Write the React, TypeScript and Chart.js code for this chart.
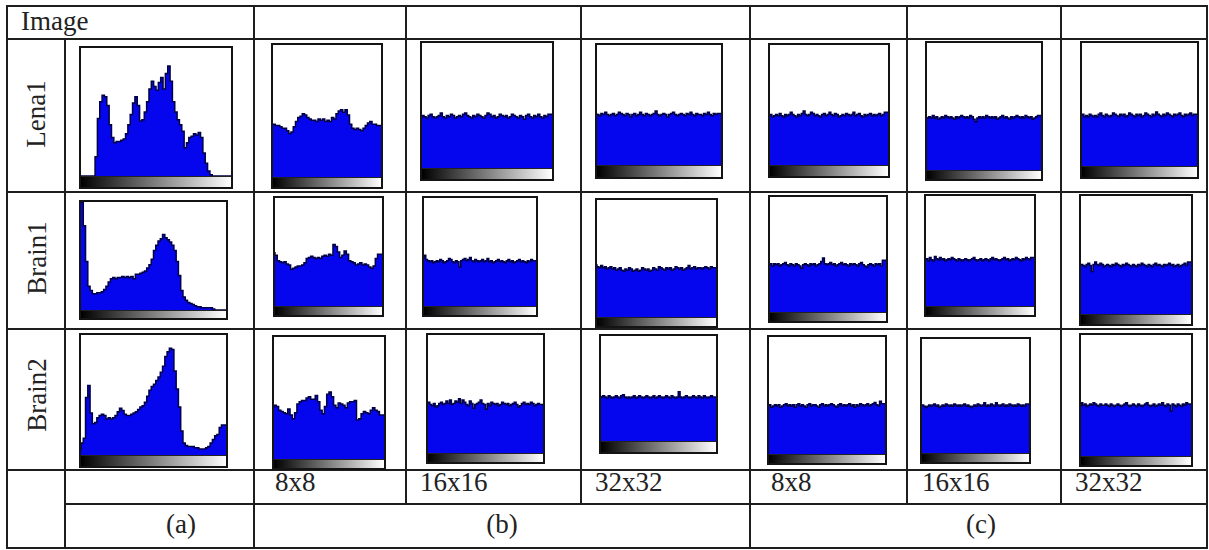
import React, { useEffect, useRef } from 'react';
import { Chart, registerables } from 'chart.js';

Chart.register(...registerables);

// ---------- categories / labels ----------
const ROW_LABELS = ['Lena1', 'Brain1', 'Brain2'];
const SIZE_LABELS = ['8x8', '16x16', '32x32', '8x8', '16x16', '32x32'];
const GROUP_LABELS = ['(a)', '(b)', '(c)'];
const HEADER_LABEL = 'Image';

// ---------- histogram values (percent of plot height, 64 / 48 bins) ----------
const LENA_A = [
  0, 0, 0, 0, 0, 0, 0, 15, 45, 58, 63, 62, 55, 40, 30, 26,
  27, 27, 28, 29, 33, 40, 48, 57, 62, 55, 43, 44, 50, 58, 68, 74,
  70, 67, 73, 77, 68, 80, 86, 74, 58, 50, 44, 40, 35, 22, 26, 30,
  31, 33, 32, 34, 30, 18, 10, 4, 1, 0, 0, 0, 0, 0, 0, 0,
];
const BRAIN1_A = [
  100, 100, 78, 45, 22, 18, 15, 15, 16, 16, 17, 19, 22, 26, 29, 30,
  29, 30, 30, 31, 30, 31, 30, 31, 29, 33, 33, 34, 35, 36, 39, 42,
  47, 55, 60, 64, 66, 70, 67, 65, 63, 60, 55, 45, 32, 18, 12, 9,
  7, 6, 5, 4, 3, 3, 2, 2, 2, 2, 2, 1, 0, 0, 0, 0,
];
const BRAIN2_A = [
  4, 10, 14, 48, 58, 35, 26, 27, 31, 33, 34, 33, 30, 31, 30, 31,
  33, 36, 39, 37, 34, 33, 33, 34, 35, 36, 38, 40, 41, 44, 49, 54,
  57, 59, 62, 65, 69, 74, 82, 86, 89, 88, 70, 55, 40, 20, 10, 8,
  7, 7, 7, 6, 6, 5, 5, 5, 6, 7, 10, 13, 16, 17, 23, 25,
];

const LENA_B1 = [
  40, 40, 39, 39, 38, 37, 37, 35, 33, 34, 38, 42, 45, 46, 48, 47,
  45, 44, 43, 43, 42, 44, 43, 44, 42, 43, 42, 45, 44, 48, 50, 51,
  49, 51, 47, 40, 37, 36, 37, 36, 35, 37, 39, 41, 42, 40, 40, 39,
];
const BRAIN1_B1 = [
  50, 47, 42, 41, 40, 41, 39, 38, 34, 35, 36, 37, 37, 38, 40, 44,
  45, 46, 45, 44, 45, 44, 46, 47, 46, 48, 47, 57, 55, 50, 45, 47,
  51, 48, 42, 41, 40, 38, 39, 40, 38, 39, 38, 36, 35, 37, 44, 48,
];
const BRAIN2_B1 = [
  42, 44, 43, 40, 39, 38, 37, 41, 36, 33, 38, 45, 47, 48, 48, 50,
  51, 49, 49, 52, 47, 40, 37, 43, 53, 55, 51, 44, 42, 46, 45, 44,
  42, 46, 47, 47, 48, 32, 33, 37, 39, 38, 37, 40, 42, 40, 39, 36,
];

const LENA_B2 = [
  40, 42, 41, 40, 42, 43, 41, 40, 41, 42, 44, 41, 40, 42, 41, 43,
  42, 40, 41, 42, 41, 43, 44, 42, 41, 40, 42, 41, 43, 42, 41, 40,
  42, 44, 43, 41, 42, 40, 41, 43, 42, 41, 42, 40, 41, 43, 42, 41,
  40, 42, 41, 39, 42, 43, 41, 40, 42, 41, 43, 41, 40, 42, 41, 43,
];
const LENA_B3 = [
  43, 42, 41, 43, 42, 44, 42, 41, 42, 43, 41, 42, 44, 43, 42, 41,
  43, 42, 40, 42, 43, 41, 42, 44, 42, 41, 43, 42, 41, 42, 43, 45,
  42, 41, 42, 43, 42, 40, 42, 43, 44, 42, 41, 42, 43, 42, 41, 43,
  42, 44, 42, 41, 43, 42, 42, 41, 43, 42, 44, 42, 41, 43, 42, 43,
];
const LENA_C1 = [
  41, 42, 40, 41, 42, 41, 43, 41, 40, 42, 41, 42, 44, 42, 41, 40,
  42, 41, 43, 45, 42, 41, 42, 44, 43, 41, 42, 41, 40, 42, 43, 41,
  42, 44, 42, 41, 43, 42, 40, 41, 42, 41, 43, 42, 41, 42, 44, 41,
  42, 43, 41, 40, 42, 41, 42, 43, 41, 42, 41, 42, 43, 41, 42, 44,
];
const LENA_C2 = [
  42, 41, 42, 41, 43, 41, 42, 40, 41, 42, 41, 43, 42, 41, 42, 41,
  40, 42, 41, 42, 43, 42, 41, 42, 41, 43, 42, 40, 38, 41, 42, 41,
  42, 41, 43, 42, 41, 42, 41, 42, 40, 41, 42, 43, 41, 42, 41, 40,
  42, 41, 42, 43, 42, 41, 42, 41, 43, 42, 41, 42, 40, 41, 42, 43,
];
const LENA_C3 = [
  41, 42, 40, 41, 40, 42, 41, 40, 41, 40, 42, 43, 41, 40, 42, 41,
  40, 41, 43, 42, 41, 40, 42, 41, 42, 40, 41, 43, 42, 41, 40, 42,
  41, 42, 40, 41, 43, 42, 41, 40, 42, 41, 44, 42, 41, 40, 42, 41,
  43, 42, 41, 40, 42, 41, 42, 43, 41, 40, 42, 41, 42, 43, 41, 42,
];

const BRAIN1_B2 = [
  44, 47, 43, 42, 41, 42, 40, 41, 42, 41, 43, 42, 40, 41, 42, 44,
  43, 41, 40, 42, 41, 36, 42, 43, 44, 42, 43, 45, 42, 41, 43, 42,
  41, 42, 43, 41, 42, 44, 41, 42, 40, 41, 42, 43, 41, 42, 41, 40,
  42, 43, 41, 42, 40, 41, 42, 43, 41, 42, 41, 40, 42, 41, 43, 42,
];
const BRAIN1_B3 = [
  45, 43, 42, 44, 42, 43, 41, 42, 43, 41, 42, 40, 41, 42, 40, 39,
  41, 40, 42, 41, 39, 40, 41, 39, 40, 42, 41, 40, 41, 39, 40, 42,
  41, 40, 43, 42, 41, 40, 42, 41, 42, 40, 41, 43, 42, 41, 42, 40,
  41, 42, 44, 41, 42, 43, 41, 42, 42, 41, 42, 43, 42, 41, 43, 42,
];
const BRAIN1_C1 = [
  41, 42, 40, 42, 41, 42, 40, 41, 42, 43, 41, 40, 42, 41, 40, 42,
  41, 40, 38, 41, 42, 41, 40, 42, 41, 42, 40, 41, 42, 44, 47, 42,
  41, 42, 43, 41, 42, 40, 41, 42, 43, 41, 42, 41, 40, 42, 41, 42,
  41, 40, 42, 43, 41, 40, 39, 41, 42, 41, 40, 42, 41, 42, 40, 45,
];
const BRAIN1_C2 = [
  42, 43, 41, 44, 42, 41, 45, 43, 42, 44, 42, 43, 41, 42, 43, 42,
  44, 43, 42, 41, 43, 42, 41, 42, 43, 42, 41, 42, 43, 44, 42, 41,
  42, 43, 41, 42, 43, 42, 41, 43, 44, 42, 43, 42, 41, 42, 43, 44,
  42, 43, 41, 42, 43, 42, 44, 43, 42, 41, 43, 42, 44, 43, 42, 44,
];
const BRAIN1_C3 = [
  41, 42, 41, 40, 42, 43, 41, 36, 42, 44, 42, 41, 43, 42, 40, 41,
  42, 41, 40, 42, 41, 43, 42, 41, 40, 42, 41, 43, 42, 41, 40, 42,
  41, 40, 42, 41, 43, 42, 41, 40, 42, 41, 40, 42, 43, 41, 42, 41,
  40, 42, 41, 42, 43, 41, 42, 40, 41, 42, 40, 41, 42, 43, 41, 44,
];

const BRAIN2_B2 = [
  42, 43, 41, 40, 42, 39, 40, 42, 43, 41, 42, 44, 42, 45, 41, 42,
  44, 43, 46, 42, 45, 43, 41, 40, 44, 42, 38, 41, 42, 43, 45, 42,
  41, 37, 42, 40, 43, 42, 41, 42, 40, 41, 43, 42, 41, 42, 40, 41,
  42, 43, 41, 39, 40, 42, 43, 41, 42, 41, 43, 42, 40, 41, 42, 41,
];
const BRAIN2_B3 = [
  43, 42, 43, 42, 41, 43, 42, 41, 42, 43, 42, 41, 43, 44, 42, 41,
  42, 41, 42, 43, 41, 42, 43, 42, 41, 42, 43, 42, 41, 42, 43, 41,
  42, 43, 42, 41, 42, 43, 42, 41, 43, 42, 41, 42, 47, 42, 41, 42,
  43, 42, 41, 42, 43, 42, 41, 43, 42, 41, 43, 42, 41, 42, 43, 42,
];
const BRAIN2_C1 = [
  41, 42, 40, 41, 42, 41, 42, 40, 41, 42, 43, 41, 42, 41, 42, 40,
  42, 43, 41, 42, 41, 40, 42, 43, 41, 42, 42, 41, 40, 42, 43, 41,
  42, 41, 42, 43, 42, 41, 40, 42, 43, 41, 42, 41, 42, 43, 41, 42,
  40, 42, 41, 43, 42, 41, 42, 43, 41, 42, 43, 44, 42, 41, 45, 43,
];
const BRAIN2_C2 = [
  41, 42, 41, 40, 41, 42, 41, 42, 43, 41, 42, 40, 41, 42, 41, 43,
  42, 41, 42, 41, 43, 42, 41, 42, 41, 42, 43, 41, 42, 41, 40, 41,
  42, 41, 43, 42, 41, 42, 44, 41, 42, 41, 43, 42, 41, 44, 42, 41,
  42, 43, 41, 42, 41, 43, 42, 41, 42, 41, 43, 42, 41, 42, 41, 43,
];
const BRAIN2_C3 = [
  41, 44, 42, 43, 41, 42, 43, 42, 44, 43, 42, 41, 43, 42, 42, 43,
  42, 41, 43, 42, 41, 42, 43, 42, 41, 42, 43, 44, 42, 41, 42, 43,
  42, 41, 43, 42, 41, 42, 43, 44, 42, 41, 42, 43, 41, 42, 43, 42,
  44, 42, 41, 43, 42, 37, 43, 42, 41, 43, 42, 41, 43, 42, 44, 43,
];

// ---------- layout (positions only, no values) ----------
// [left, top, width, height, gradientBarHeight] for columns a, b1, b2, b3, c1, c2, c3
const FRAMES = [
  [[79, 46, 154, 143, 11], [271, 43, 112, 146, 10], [420, 41, 134, 140, 11], [595, 43, 128, 136, 12], [768, 43, 122, 135, 11], [925, 41, 118, 140, 9], [1080, 41, 119, 138, 11]],
  [[79, 200, 149, 120, 8], [273, 196, 111, 121, 9], [422, 196, 116, 121, 9], [595, 198, 123, 130, 9], [768, 195, 120, 128, 9], [924, 194, 112, 123, 9], [1079, 194, 114, 132, 10]],
  [[79, 333, 149, 135, 11], [272, 335, 114, 135, 9], [426, 333, 119, 131, 9], [599, 334, 119, 120, 11], [767, 335, 120, 130, 9], [920, 337, 111, 127, 9], [1079, 333, 114, 134, 9]],
];
const ROW_LABEL_CENTERS = [[36, 114], [37, 258], [37, 395]];
const SIZE_LABEL_LEFT = [275, 420, 595, 771, 922, 1075];
const GROUP_LABEL_CENTER = [181, 502, 981];
const H_LINES = [[6, 7, 1207], [39, 7, 1207], [192, 7, 1207], [329, 7, 1207], [470, 7, 1207], [504, 65, 1207], [548, 7, 1207]];
const V_LINES = [[7, 6, 548], [65, 39, 548], [254, 6, 548], [406, 6, 504], [581, 6, 504], [750, 6, 548], [907, 6, 504], [1061, 6, 504], [1207, 6, 548]];

const HIST_DATA = [
  [LENA_A, LENA_B1, LENA_B2, LENA_B3, LENA_C1, LENA_C2, LENA_C3],
  [BRAIN1_A, BRAIN1_B1, BRAIN1_B2, BRAIN1_B3, BRAIN1_C1, BRAIN1_C2, BRAIN1_C3],
  [BRAIN2_A, BRAIN2_B1, BRAIN2_B2, BRAIN2_B3, BRAIN2_C1, BRAIN2_C2, BRAIN2_C3],
];

const HIST_FILL = 'rgb(6, 6, 238)';
const HIST_EDGE = 'rgb(0, 0, 70)';
const LINE_COLOR = '#1e1e1e';
const FONT = '"Liberation Serif", "Times New Roman", serif';
const TEXT_COLOR = '#222';

function Hist({ box, values }: { box: number[]; values: number[] }) {
  const ref = useRef<HTMLCanvasElement | null>(null);
  const [x, y, w, h, g] = box;
  const iw = w - 4;
  const ih = h - 4 - g;
  useEffect(() => {
    const pts = values.map((v, i) => ({ x: i, y: v }));
    pts.push({ x: values.length, y: values[values.length - 1] });
    const chart = new Chart(ref.current as HTMLCanvasElement, {
      type: 'line',
      data: {
        datasets: [
          {
            data: pts,
            stepped: 'after',
            fill: 'origin',
            backgroundColor: HIST_FILL,
            borderColor: HIST_EDGE,
            borderWidth: 1.5,
            pointRadius: 0,
          },
        ],
      },
      options: {
        animation: false,
        responsive: false,
        devicePixelRatio: 1,
        layout: { padding: 0 },
        plugins: { legend: { display: false }, tooltip: { enabled: false } },
        scales: {
          x: { type: 'linear', min: 0, max: values.length, display: false },
          y: { min: 0, max: 100, display: false },
        },
      },
    } as any);
    return () => chart.destroy();
  }, [values]);
  return (
    <div
      style={{
        position: 'absolute',
        left: x,
        top: y,
        width: w,
        height: h,
        border: '2px solid #141414',
        boxSizing: 'border-box',
        background: '#fff',
      }}
    >
      <canvas ref={ref} width={iw} height={ih} style={{ display: 'block', width: iw, height: ih }} />
      <div
        style={{
          height: g,
          boxSizing: 'border-box',
          borderTop: '1px solid #222',
          background: 'linear-gradient(to right, #000, #fff)',
        }}
      />
    </div>
  );
}

export default function App() {
  const textBase: React.CSSProperties = {
    position: 'absolute',
    fontFamily: FONT,
    fontSize: 27,
    lineHeight: '27px',
    color: TEXT_COLOR,
    whiteSpace: 'nowrap',
  };
  return (
    <div style={{ position: 'absolute', left: 0, top: 0, width: 1209, height: 550, background: '#fff', overflow: 'hidden' }}>
      {H_LINES.map(([yy, x1, x2], i) => (
        <div key={'h' + i} style={{ position: 'absolute', left: x1 - 1, top: yy - 1, width: x2 - x1 + 2, height: 2, background: LINE_COLOR }} />
      ))}
      {V_LINES.map(([xx, y1, y2], i) => (
        <div key={'v' + i} style={{ position: 'absolute', left: xx - 1, top: y1 - 1, width: 2, height: y2 - y1 + 2, background: LINE_COLOR }} />
      ))}
      <div style={{ ...textBase, left: 21, top: 8 }}>{HEADER_LABEL}</div>
      {ROW_LABELS.map((lab, i) => (
        <div
          key={'r' + i}
          style={{
            ...textBase,
            left: ROW_LABEL_CENTERS[i][0],
            top: ROW_LABEL_CENTERS[i][1],
            transform: 'translate(-50%, -50%) rotate(-90deg)',
          }}
        >
          {lab}
        </div>
      ))}
      {SIZE_LABELS.map((lab, i) => (
        <div key={'s' + i} style={{ ...textBase, left: SIZE_LABEL_LEFT[i], top: 469 }}>
          {lab}
        </div>
      ))}
      {GROUP_LABELS.map((lab, i) => (
        <div key={'g' + i} style={{ ...textBase, left: GROUP_LABEL_CENTER[i], top: 511, transform: 'translateX(-50%)' }}>
          {lab}
        </div>
      ))}
      {FRAMES.map((row, r) =>
        row.map((box, c) => <Hist key={r + '-' + c} box={box} values={HIST_DATA[r][c]} />)
      )}
    </div>
  );
}
